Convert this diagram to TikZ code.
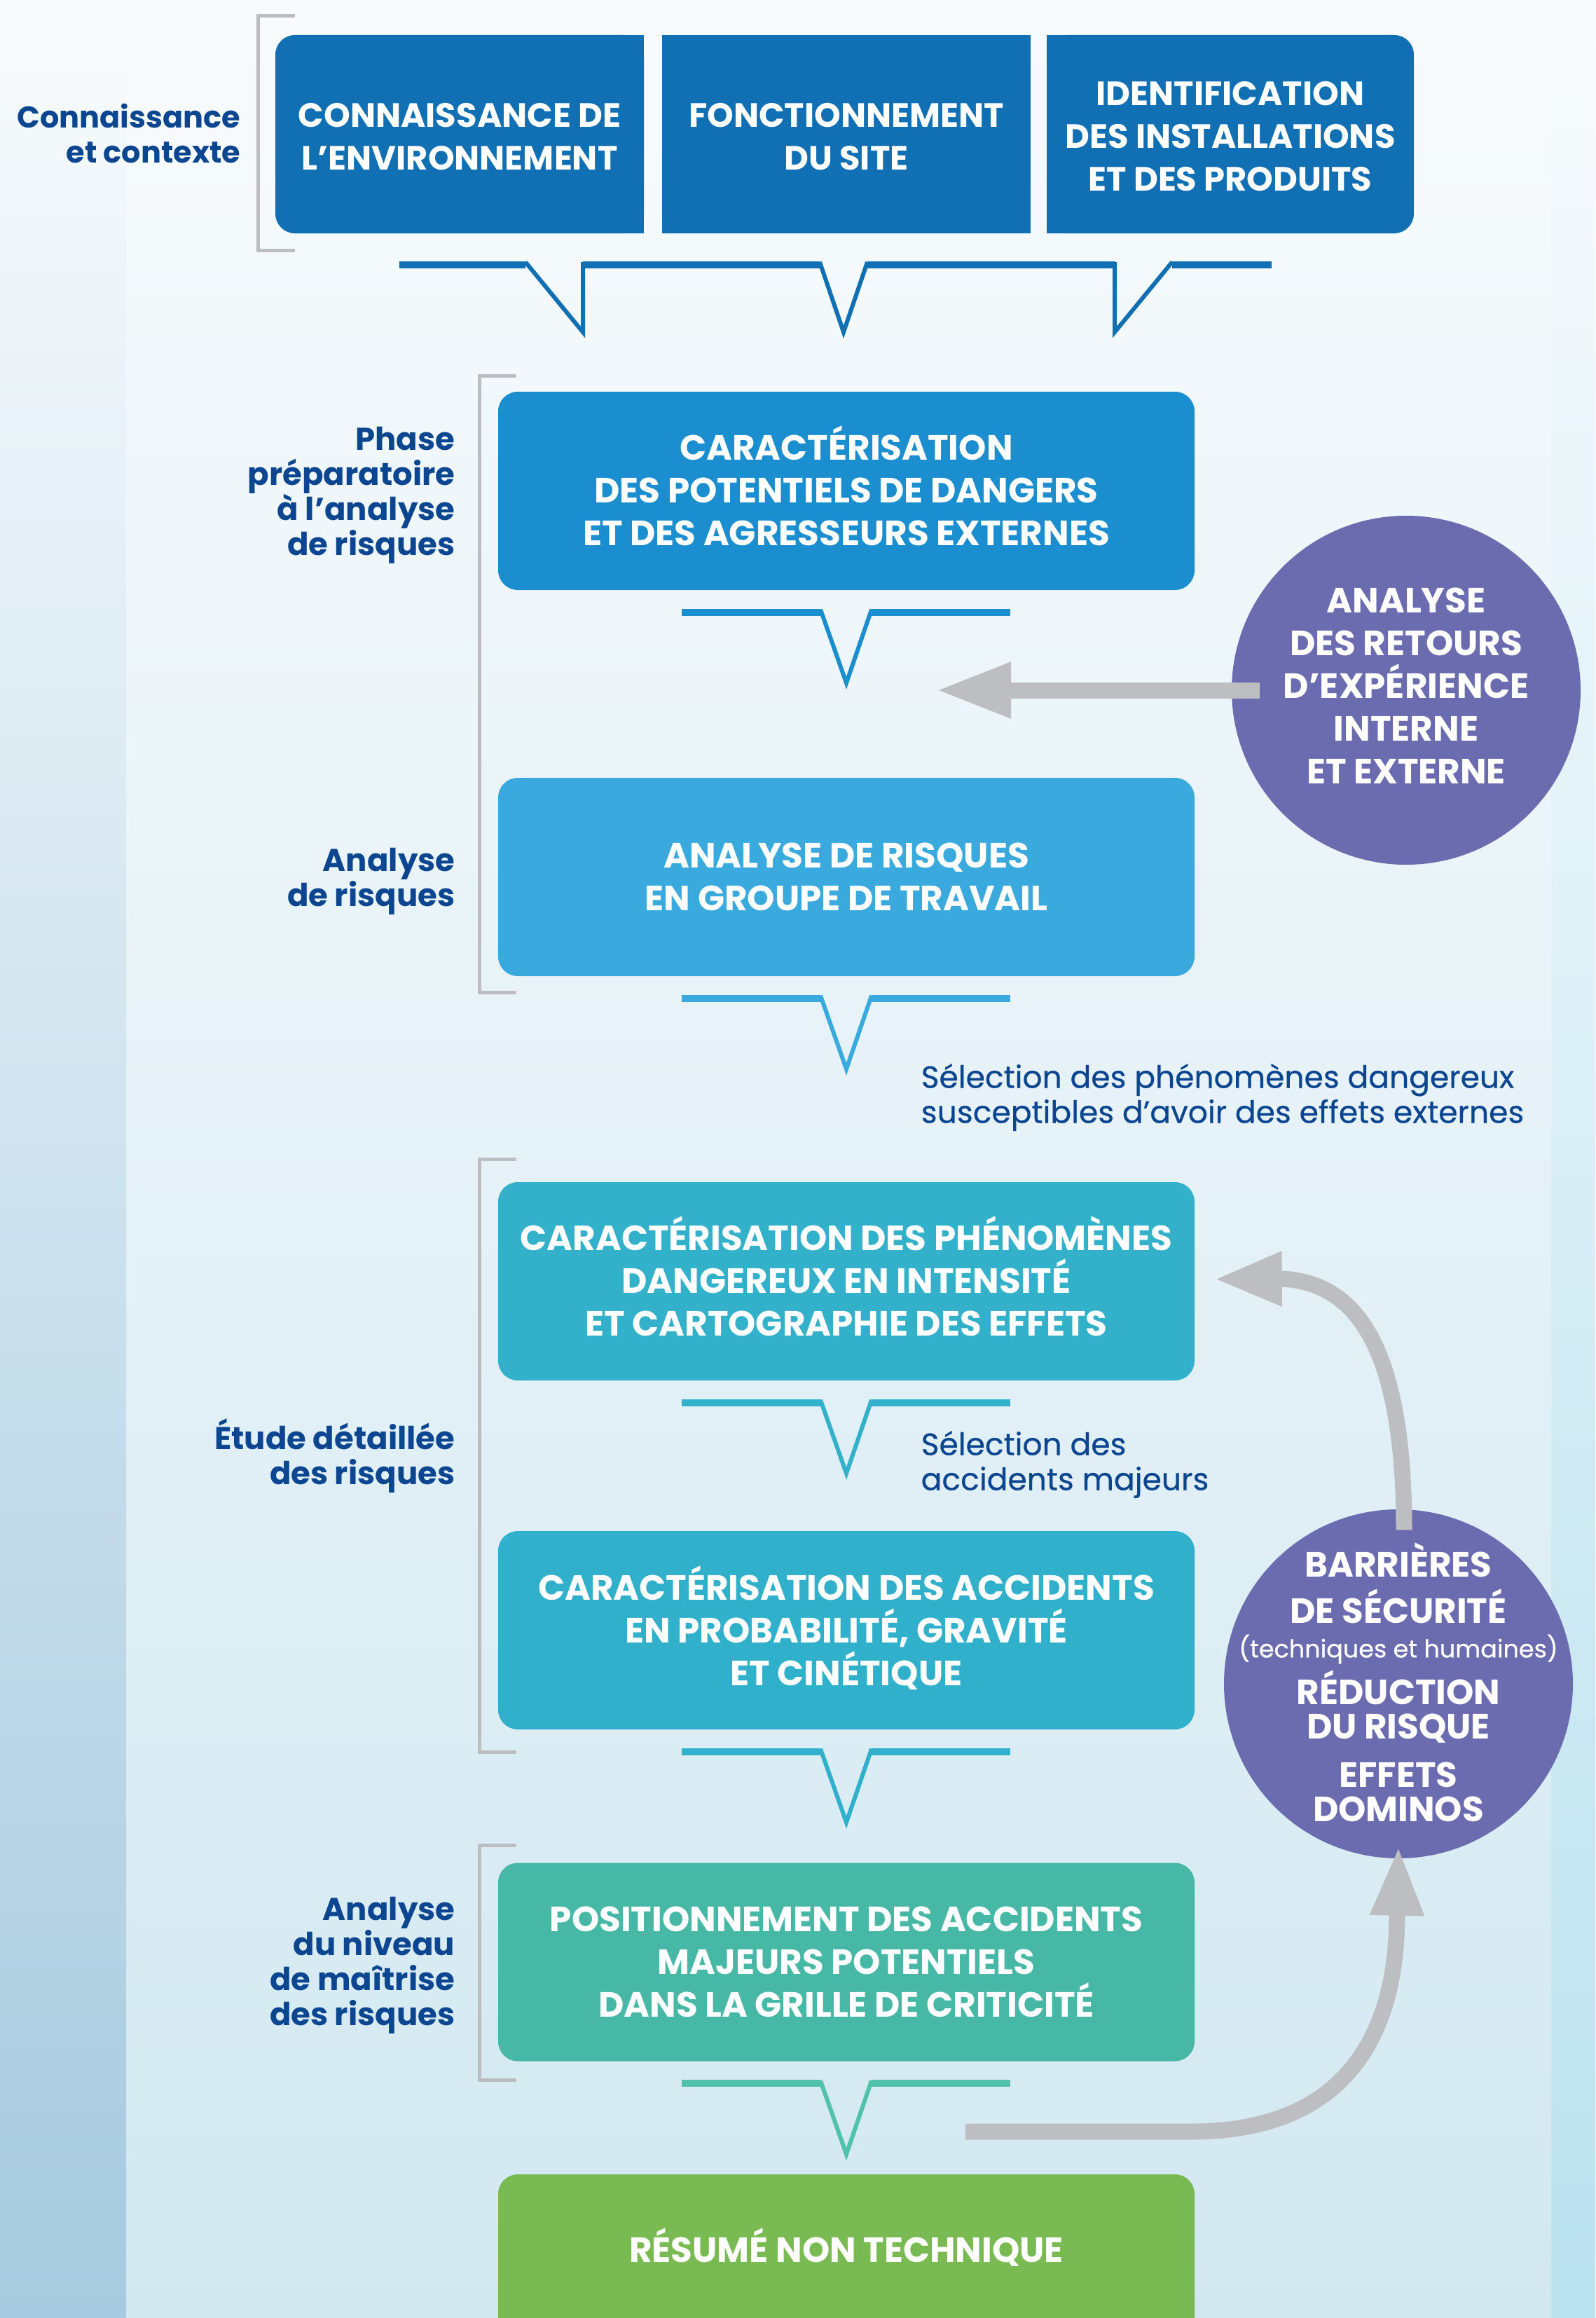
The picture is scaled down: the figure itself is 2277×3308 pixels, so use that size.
\documentclass[tikz,border=0pt]{standalone}
\usepackage{fontspec}
\setmainfont{Poppins}
\newfontfamily\selfam{Poppins}[FakeBold=0.5]
\usetikzlibrary{arrows.meta,calc}
\newlength\px
\setlength\px{0.1mm}
\definecolor{bgtop}{HTML}{F8FBFD}
\definecolor{bgmid}{HTML}{EAF4F7}
\definecolor{bgbot}{HTML}{D2E8F1}
\definecolor{leftmid}{HTML}{DDECF3}
\definecolor{leftbot}{HTML}{A6CADF}
\definecolor{rightmid}{HTML}{E4F2F6}
\definecolor{rightbot}{HTML}{BAE2EF}
\definecolor{topblue}{HTML}{1070B3}
\definecolor{boxA}{HTML}{1B8ECF}
\definecolor{boxB}{HTML}{3AAADE}
\definecolor{boxC}{HTML}{33B1CB}
\definecolor{boxD}{HTML}{31B0CB}
\definecolor{boxE}{HTML}{48B8A6}
\definecolor{tailE}{HTML}{50C1AB}
\definecolor{boxF}{HTML}{7ABA52}
\definecolor{circcol}{HTML}{6A6CAF}
\definecolor{arrowgray}{HTML}{BDBEC2}
\definecolor{bracketgray}{HTML}{BCBDC1}
\definecolor{labelblue}{HTML}{0C4690}
\newcommand\boxfont{\bfseries\fontsize{50\px}{61\px}\selectfont}
\newcommand\topfont{\bfseries\fontsize{48\px}{61\px}\selectfont}
\newcommand\lblfont{\bfseries\fontsize{45\px}{50\px}\selectfont}
\newcommand\lblfontb{\bfseries\fontsize{43\px}{50\px}\selectfont}
\newcommand\selfont{\selfam\fontsize{44\px}{50\px}\selectfont}
\newcommand\circfont{\bfseries\fontsize{50\px}{61\px}\selectfont}
\newcommand\circfontb{\bfseries\fontsize{50\px}{49\px}\selectfont}
\newcommand\smallcirc{\selfam\mdseries\fontsize{35\px}{40\px}\selectfont}
\newcommand\capln[1]{\smash{#1}\vphantom{A}}
\tikzset{
  mainbox/.style={rounded corners=28\px, minimum width=994\px, minimum height=283\px, inner sep=0pt, text=white, align=center, font=\boxfont},
  toptext/.style={text=white, align=center, font=\topfont, inner sep=0pt, minimum width=520\px, minimum height=283\px},
  phase/.style={text=labelblue, align=right, font=\lblfont, anchor=east, inner sep=0pt},
  selnote/.style={text=labelblue, align=left, font=\selfont, anchor=west, inner sep=0pt},
  circshape/.style={circle, fill=circcol, minimum size=498\px, inner sep=0pt},
  circtext/.style={text=white, align=center, inner sep=0pt},
  bracket/.style={draw=bracketgray, line width=5\px},
  feedback/.style={draw=arrowgray, line width=23\px},
  tailline/.style={line width=10\px},
  tailtip/.style={line width=6\px},
}
\newcommand\drawtail[2]{%
  \begin{scope}[shift={($(#1.south)+(0,31)$)}]
    \draw[#2, tailline] (-235,0) -- (-37,0) (36,0) -- (234,0);
    \draw[#2, tailtip] (-37,-4) -- (0,101) -- (36,-4);
  \end{scope}}
\begin{document}
\begin{tikzpicture}[x=0.1mm, y=-0.1mm]
\useasboundingbox (0,0) rectangle (2277,3308);
\clip (0,0) rectangle (2277,3308);
% background
\shade[top color=bgtop, middle color=bgmid, bottom color=bgbot] (0,0) rectangle (2277,3308);
\shade[top color=bgtop, middle color=leftmid, bottom color=leftbot] (0,0) rectangle (180,3308);
\shade[top color=bgtop, middle color=rightmid, bottom color=rightbot] (2214,0) rectangle (2277,3308);

% brackets
\draw[bracket] (421,23) -- (368,23) -- (368,357) -- (421,357);
\draw[bracket] (737,536) -- (684,536) -- (684,1416) -- (737,1416);
\draw[bracket] (737,1654) -- (684,1654) -- (684,2500) -- (737,2500);
\draw[bracket] (737,2633) -- (684,2633) -- (684,2968) -- (737,2968);

% top row
\fill[topblue, rounded corners=28\px] (393,50) rectangle (919,333);
\fill[topblue] (600,50) rectangle (919,333);
\fill[topblue] (945,50) rectangle (1471,333);
\fill[topblue, rounded corners=28\px] (1494,50) rectangle (2018,333);
\fill[topblue] (1494,50) rectangle (1800,333);
\node[toptext] (k1) at (656,195) {CONNAISSANCE DE\\L’ENVIRONNEMENT};
\node[toptext] (k2) at (1208,195) {FONCTIONNEMENT\\DU SITE};
\node[toptext] (k3) at (1756,195) {IDENTIFICATION\\DES INSTALLATIONS\\ET DES PRODUITS};

% top tails
\draw[topblue, tailline] (570,378) -- (750,378) (832,378) -- (1170,378) (1238,378) -- (1591,378) (1673,378) -- (1815,378);
\draw[topblue, tailtip] (750,374) -- (832,474) -- (832,374);
\draw[topblue, tailtip] (1170,374) -- (1204,474) -- (1238,374);
\draw[topblue, tailtip] (1591,374) -- (1591,474) -- (1673,374);

% main boxes
\node[mainbox, fill=boxA] (b1) at (1208,700.5) {\capln{CARACTÉRISATION}\\DES POTENTIELS DE DANGERS\\ET DES AGRESSEURS EXTERNES};
\node[mainbox, fill=boxB] (b2) at (1208,1251.5) {ANALYSE DE RISQUES\\EN GROUPE DE TRAVAIL};
\node[mainbox, fill=boxC] (b3) at (1208,1828.5) {\capln{CARACTÉRISATION DES PHÉNOMÈNES}\\DANGEREUX EN INTENSITÉ\\ET CARTOGRAPHIE DES EFFETS};
\node[mainbox, fill=boxD] (b4) at (1208,2326.5) {\capln{CARACTÉRISATION DES ACCIDENTS}\\EN PROBABILITÉ, GRAVITÉ\\\capln{ET CINÉTIQUE}};
\node[mainbox, fill=boxE] (b5) at (1208,2800) {POSITIONNEMENT DES ACCIDENTS\\MAJEURS POTENTIELS\\DANS LA GRILLE DE CRITICITÉ};
\node[mainbox, fill=boxF, text height=34\px, text depth=67\px] (b6) at (1208,3244.5) {RÉSUMÉ NON TECHNIQUE};

\drawtail{b1}{boxA}
\drawtail{b2}{boxB}
\drawtail{b3}{boxC}
\drawtail{b4}{boxD}
\drawtail{b5}{tailE}

% circles
\node[circshape] (c1) at (2007,985) {};
\node[circtext, font=\circfont] (c1t) at (2007,979) {ANALYSE\\DES RETOURS\\D’EXPÉRIENCE\\INTERNE\\ET EXTERNE};
\node[circshape] (c2) at (1996,2403) {};
\node[circtext, font=\circfontb] (c2t) at (1996,2401) {BARRIÈRES\\[13\px]DE SÉCURITÉ\\{\smallcirc (techniques et humaines)}\\[6\px]RÉDUCTION\\DU RISQUE\\[20\px]EFFETS\\DOMINOS};

% feedback arrows
\coordinate (fb1) at (1336,985);
\draw[feedback, -{Triangle[length=10.7mm, width=7.4mm]}, arrowgray] ([xshift=41\px]c1.west) -- (fb1);
\draw[feedback, -{Triangle[length=9.7mm, width=7.2mm]}, arrowgray] ([xshift=8\px, yshift=-30\px]c2.north) .. controls (2004,1950) and (1950,1830) .. (1829,1825) -- ([xshift=27\px, yshift=3\px]b3.east);
\coordinate (fb3) at (1378,3042);
\draw[feedback, -{Triangle[length=9.9mm, width=7.1mm]}, arrowgray] (fb3) -- (1700,3042) .. controls (1960,3042) and (1994,2850) .. (1994,2732) -- ([yshift=18\px]c2.south);

% phase labels
\node[phase, font=\lblfontb] (p0) at (344,190) {Connaissance\\et contexte};
\node[phase] (p1) at (650,707) {Phase\\préparatoire\\à l’analyse\\de risques};
\node[phase] (p2) at (650,1258) {Analyse\\de risques};
\node[phase] (p3) at (650,2077) {Étude détaillée\\des risques};
\node[phase] (p4) at (650,2805) {Analyse\\du niveau\\de maîtrise\\des risques};

% selection notes
\node[selnote] (s1) at (1314,1566) {Sélection des phénomènes dangereux\\susceptibles d’avoir des effets externes};
\node[selnote] (s2) at (1314,2090) {Sélection des\\accidents majeurs};
\end{tikzpicture}
\end{document}
